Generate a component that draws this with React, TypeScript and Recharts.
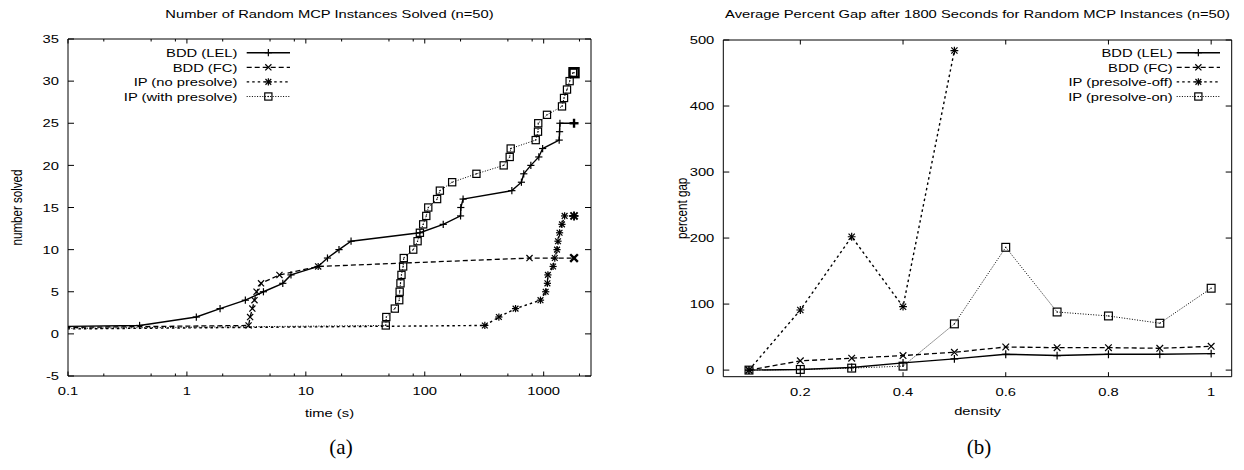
import React from 'react';
import { LineChart, Line, XAxis, YAxis, ReferenceArea } from 'recharts';

const FONT = '"Liberation Sans", Arial, Helvetica, sans-serif';
const SERIF = '"Liberation Serif", "DejaVu Serif", serif';
const FS = 11.6;
const SX = 1.27;

// ---------- (a) Number of Random MCP Instances Solved ----------
const lelTimes = [1e-6, 0.4, 1.2, 1.9, 3.1, 4.4, 6.4, 7.5, 12.7, 15.2, 19, 24, 91, 143, 200, 201, 210, 540, 650, 680, 780, 910, 980, 1350, 1360, 1370, 1800];
const lelSolved = [0, 1, 2, 3, 4, 5, 6, 7, 8, 9, 10, 11, 12, 13, 14, 15, 16, 17, 18, 19, 20, 21, 22, 23, 24, 25, 25];
const fcTimes = [1e-6, 3.3, 3.4, 3.55, 3.7, 3.85, 4.2, 6.0, 12.7, 760, 1800];
const fcSolved = [0, 1, 2, 3, 4, 5, 6, 7, 8, 9, 9];
const ipNoTimes = [1e-6, 320, 420, 580, 940, 1040, 1075, 1085, 1200, 1240, 1295, 1320, 1360, 1425, 1500, 1800];
const ipNoSolved = [0, 1, 2, 3, 4, 5, 6, 7, 8, 9, 10, 11, 12, 13, 14, 14];
const ipPreTimes = [1e-6, 47, 47.5, 56, 61, 61.5, 62.5, 63.7, 65.8, 66.6, 80, 87, 91, 97, 103, 107, 127, 134, 170, 272, 461, 518, 528, 857, 896, 900, 1066, 1426, 1483, 1571, 1653, 1763, 1800];
const ipPreSolved = [0, 1, 2, 3, 4, 5, 6, 7, 8, 9, 10, 11, 12, 13, 14, 15, 16, 17, 18, 19, 20, 21, 22, 23, 24, 25, 26, 27, 28, 29, 30, 31, 31];
const timeMajorTicks = [0.1, 1, 10, 100, 1000];
const timeMinorTicks = [0.2, 0.5, 0.8, 2, 5, 8, 20, 50, 80, 200, 500, 800, 2000];
const solvedTicks = [-5, 0, 5, 10, 15, 20, 25, 30, 35];
const leftLegend = ['BDD (LEL)', 'BDD (FC)', 'IP (no presolve)', 'IP (with presolve)'];

// ---------- (b) Average Percent Gap ----------
const density = [0.1, 0.2, 0.3, 0.4, 0.5, 0.6, 0.7, 0.8, 0.9, 1.0];
const lelGap = [0, 1, 4, 11, 17, 24, 22, 24, 24, 25];
const fcGap = [0, 14, 18, 22, 27, 35, 34, 34, 33, 36];
const offGap = [0, 91, 202, 96, 484];
const onGap = [0, 1, 3, 6, 70, 186, 88, 82, 71, 124];
const densityTicks = [0.2, 0.4, 0.6, 0.8, 1];
const gapTicks = [0, 100, 200, 300, 400, 500];
const rightLegend = ['BDD (LEL)', 'BDD (FC)', 'IP (presolve-off)', 'IP (presolve-on)'];

const toPts = (xs: number[], ys: number[]) => ys.map((v, i) => ({ t: xs[i], v }));
const lelData = toPts(lelTimes, lelSolved);
const fcData = toPts(fcTimes, fcSolved);
const ipNoData = toPts(ipNoTimes, ipNoSolved);
const ipPreData = toPts(ipPreTimes, ipPreSolved);
const rLel = toPts(density, lelGap);
const rFc = toPts(density, fcGap);
const rOff = toPts(density, offGap);
const rOn = toPts(density, onGap);

const DASH: Record<string, string | undefined> = {
  solid: undefined,
  dashed: '5 3',
  dotted: '2.5 3',
  fine: '1 1.6',
};
const WIDTH: Record<string, number> = { solid: 1.4, dashed: 1.3, dotted: 1.4, fine: 1 };

type Shape = 'plus' | 'cross' | 'star' | 'square';

function Marker({ cx, cy, shape, sw = 1.2, s = 3.6 }: { cx: number; cy: number; shape: Shape; sw?: number; s?: number }) {
  if (cx == null || cy == null || isNaN(cx) || isNaN(cy)) return null;
  const st = { stroke: '#000', strokeWidth: sw, fill: 'none' };
  if (shape === 'plus')
    return (
      <g>
        <line x1={cx - s} y1={cy} x2={cx + s} y2={cy} {...st} />
        <line x1={cx} y1={cy - s} x2={cx} y2={cy + s} {...st} />
      </g>
    );
  if (shape === 'cross') {
    const d = s * 0.85;
    return (
      <g>
        <line x1={cx - d} y1={cy - d} x2={cx + d} y2={cy + d} {...st} />
        <line x1={cx - d} y1={cy + d} x2={cx + d} y2={cy - d} {...st} />
      </g>
    );
  }
  if (shape === 'star') {
    const d = s * 0.8;
    return (
      <g>
        <line x1={cx - s} y1={cy} x2={cx + s} y2={cy} {...st} />
        <line x1={cx} y1={cy - s} x2={cx} y2={cy + s} {...st} />
        <line x1={cx - d} y1={cy - d} x2={cx + d} y2={cy + d} {...st} />
        <line x1={cx - d} y1={cy + d} x2={cx + d} y2={cy - d} {...st} />
      </g>
    );
  }
  return (
    <g>
      <rect x={cx - s} y={cy - s} width={2 * s} height={2 * s} {...st} />
      <rect x={cx - 0.6} y={cy - 0.6} width={1.2} height={1.2} fill="#000" />
    </g>
  );
}

const dotFn = (shape: Shape, boldLast: number, s = 3.6) => (p: any) => {
  const bold = boldLast >= 0 && p.index === boldLast;
  const bw = shape === 'star' ? 1.9 : 2.4;
  return <Marker key={p.index} cx={p.cx} cy={p.cy} shape={shape} s={bold ? s * 1.25 : s} sw={bold ? bw : 1.2} />;
};

function Txt({ x, y, anchor = 'middle', size = FS, rotate = 0, children, family = FONT, stretch = true }: any) {
  let tr = `translate(${x},${y})`;
  if (rotate) tr += ` rotate(${rotate})`;
  if (stretch) tr += rotate ? ` scale(1,${SX})` : ` scale(${SX},1)`;
  return (
    <text transform={tr} textAnchor={anchor} fontSize={size} fontFamily={family} fill="#000">
      {children}
    </text>
  );
}

// geometry (page coordinates)
const A = { left: 68, top: 39, right: 591, bottom: 376 };
const B = { left: 723.3, top: 40, right: 1231.7, bottom: 376.7 };
const LEFT_W = 620;
const RIGHT_X = 620;
const RIGHT_W = 624;
const AX_H = 20;
const AX_W = 20;

const fmt = (v: number) => String(v);

const makeXTick = (g: typeof A, majors: number[], majorLen: number, minorLen: number) => (p: any) => {
  const v = p.payload.value;
  const x = p.x;
  const major = majors.some((m) => Math.abs(m - v) < 1e-9);
  const len = major ? majorLen : minorLen;
  return (
    <g key={`xt${v}`}>
      <line x1={x} y1={g.bottom} x2={x} y2={g.bottom - len} stroke="#000" strokeWidth={1} />
      <line x1={x} y1={g.top} x2={x} y2={g.top + len} stroke="#000" strokeWidth={1} />
      {major ? <Txt x={x} y={g.bottom + 19}>{fmt(v)}</Txt> : null}
    </g>
  );
};

const makeYTick = (g: typeof A, offX: number, len: number) => (p: any) => {
  const v = p.payload.value;
  const y = p.y;
  const l = g.left - offX;
  const r = g.right - offX;
  return (
    <g key={`yt${v}`}>
      <line x1={l} y1={y} x2={l + len} y2={y} stroke="#000" strokeWidth={1} />
      <line x1={r} y1={y} x2={r - len} y2={y} stroke="#000" strokeWidth={1} />
      <Txt x={l - 9} y={y + 4.2} anchor="end">{fmt(v)}</Txt>
    </g>
  );
};

const styles = ['solid', 'dashed', 'dotted', 'fine'];
const shapes: Shape[] = ['plus', 'cross', 'star', 'square'];

function LegendBox({ textRight, lineX1, lineX2, y0, labels }: any) {
  const dy = 14.6;
  return (
    <g>
      {labels.map((lab: string, i: number) => {
        const y = y0 + i * dy;
        const st = styles[i];
        return (
          <g key={lab}>
            <Txt x={textRight} y={y + 4.2} anchor="end">{lab}</Txt>
            <line x1={lineX1} y1={y} x2={lineX2} y2={y} stroke="#000" strokeWidth={WIDTH[st]} strokeDasharray={DASH[st]} />
            <Marker cx={(lineX1 + lineX2) / 2} cy={y} shape={shapes[i]} />
          </g>
        );
      })}
    </g>
  );
}

export default function App() {
  const allTimeTicks = [...timeMajorTicks, ...timeMinorTicks].sort((a, b) => a - b);
  const xs = [lelData, fcData, ipNoData, ipPreData];
  const rs = [rLel, rFc, rOff, rOn];
  return (
    <div style={{ position: 'absolute', left: 0, top: 0, width: 1244, height: 470, background: '#fff' }}>
      <div style={{ position: 'absolute', left: 0, top: 0 }}>
        <LineChart
          width={LEFT_W}
          height={470}
          margin={{ top: A.top, left: A.left - AX_W, right: LEFT_W - A.right, bottom: 470 - A.bottom - AX_H }}
        >
          <XAxis
            dataKey="t"
            type="number"
            scale="log"
            domain={[0.1, 2500]}
            allowDataOverflow
            ticks={allTimeTicks}
            interval={0}
            height={AX_H}
            axisLine={false}
            tickLine={false}
            tick={makeXTick(A, timeMajorTicks, 4.5, 2.5)}
          />
          <YAxis
            type="number"
            domain={[-5, 35]}
            allowDataOverflow
            ticks={solvedTicks}
            interval={0}
            width={AX_W}
            axisLine={false}
            tickLine={false}
            tick={makeYTick(A, 0, 6)}
          />
          <ReferenceArea x1={0.1} x2={2500} y1={-5} y2={35} fill="none" stroke="#000" strokeWidth={1} ifOverflow="visible" />
          {xs.map((d, i) => (
            <Line
              key={`a${i}`}
              data={d}
              dataKey="v"
              stroke="#000"
              strokeWidth={WIDTH[styles[i]]}
              strokeDasharray={DASH[styles[i]]}
              dot={dotFn(shapes[i], d.length - 1)}
              activeDot={false}
              isAnimationActive={false}
            />
          ))}
        </LineChart>
      </div>
      <div style={{ position: 'absolute', left: RIGHT_X, top: 0 }}>
        <LineChart
          width={RIGHT_W}
          height={470}
          margin={{ top: B.top, left: B.left - RIGHT_X - AX_W, right: RIGHT_W - (B.right - RIGHT_X), bottom: 470 - B.bottom - AX_H }}
        >
          <XAxis
            dataKey="t"
            type="number"
            domain={[0.05, 1.04]}
            allowDataOverflow
            ticks={densityTicks}
            interval={0}
            height={AX_H}
            axisLine={false}
            tickLine={false}
            tick={makeXTick(B, densityTicks, 4.5, 2.5)}
          />
          <YAxis
            type="number"
            domain={[-10, 500]}
            allowDataOverflow
            ticks={gapTicks}
            interval={0}
            width={AX_W}
            axisLine={false}
            tickLine={false}
            tick={makeYTick(B, RIGHT_X, 6)}
          />
          <ReferenceArea x1={0.05} x2={1.04} y1={-10} y2={500} fill="none" stroke="#000" strokeWidth={1} ifOverflow="visible" />
          {rs.map((d, i) => (
            <Line
              key={`b${i}`}
              data={d}
              dataKey="v"
              stroke="#000"
              strokeWidth={WIDTH[styles[i]]}
              strokeDasharray={DASH[styles[i]]}
              dot={dotFn(shapes[i], -1, 3.9)}
              activeDot={false}
              isAnimationActive={false}
            />
          ))}
        </LineChart>
      </div>
      <svg width={1244} height={470} style={{ position: 'absolute', left: 0, top: 0, pointerEvents: 'none' }}>
        <Txt x={(A.left + A.right) / 2} y={18}>Number of Random MCP Instances Solved (n=50)</Txt>
        <Txt x={(B.left + B.right) / 2} y={18}>Average Percent Gap after 1800 Seconds for Random MCP Instances (n=50)</Txt>
        <Txt x={(A.left + A.right) / 2} y={417}>time (s)</Txt>
        <Txt x={(B.left + B.right) / 2} y={415}>density</Txt>
        <Txt x={22} y={(A.top + A.bottom) / 2} rotate={-90}>number solved</Txt>
        <Txt x={687} y={(B.top + B.bottom) / 2} rotate={-90}>percent gap</Txt>
        <Txt x={341} y={454} size={21} family={SERIF} stretch={false}>(a)</Txt>
        <Txt x={979} y={454} size={21} family={SERIF} stretch={false}>(b)</Txt>
        <LegendBox textRight={237.3} lineX1={246.7} lineX2={290} y0={52.7} labels={leftLegend} />
        <LegendBox textRight={1172.7} lineX1={1176.7} lineX2={1220} y0={52.7} labels={rightLegend} />
      </svg>
    </div>
  );
}
